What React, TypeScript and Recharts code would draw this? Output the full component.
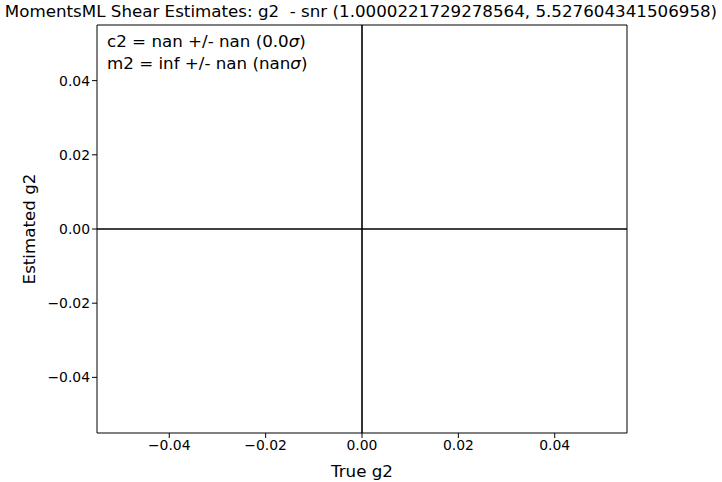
import React from 'react';
import { LineChart, Line, XAxis, YAxis, ReferenceLine, ReferenceArea, Label } from 'recharts';

const title = 'MomentsML Shear Estimates: g2  - snr (1.0000221729278564, 5.527604341506958)';
const xLabel = 'True g2';
const yLabel = 'Estimated g2';
const domain: [number, number] = [-0.055, 0.055];
const xTicks = [-0.04, -0.02, 0, 0.02, 0.04];
const yTicks = [-0.04, -0.02, 0, 0.02, 0.04];
// no finite estimates in the source figure
const points: { x: number; y: number }[] = [];
const statLines = [
  { name: 'c2', value: 'nan', err: 'nan', sig: '0.0' },
  { name: 'm2', value: 'inf', err: 'nan', sig: 'nan' },
];

const FONT = 'DejaVu Sans, sans-serif';

const fmt = (v: number) => {
  const s = v.toFixed(2);
  return s.startsWith('-') ? '\u2212' + s.slice(1) : s;
};

export default function App() {
  return (
    <div style={{ position: 'absolute', left: 0, top: 0, width: 722, height: 482, background: '#fff', fontFamily: FONT }}>
      <div style={{ position: 'absolute', left: 0, top: 1, width: 722, textAlign: 'center', fontSize: 16.7, color: '#000', whiteSpace: 'pre' }}>
        {title}
      </div>
      <LineChart width={722} height={482} data={points} margin={{ top: 25, right: 95, bottom: 0, left: 0 }}>
        <XAxis
          type="number"
          dataKey="x"
          domain={domain}
          ticks={xTicks}
          allowDataOverflow
          tickFormatter={fmt}
          tick={{ fill: '#000', fontSize: 13.9, fontFamily: FONT }}
          tickSize={5}
          axisLine={false}
          tickLine={{ stroke: '#000' }}
          height={49}
        >
          <Label value={xLabel} position="insideBottom" offset={5} style={{ fontSize: 16.7, fill: '#000', fontFamily: FONT }} />
        </XAxis>
        <YAxis
          type="number"
          dataKey="y"
          domain={domain}
          ticks={yTicks}
          allowDataOverflow
          tickFormatter={fmt}
          tick={{ fill: '#000', fontSize: 13.9, fontFamily: FONT }}
          tickSize={5}
          axisLine={false}
          tickLine={{ stroke: '#000' }}
          width={97}
        >
          <Label value={yLabel} angle={-90} position="insideLeft" offset={29} style={{ fontSize: 16.7, fill: '#000', fontFamily: FONT, textAnchor: 'middle' }} />
        </YAxis>
        <ReferenceArea x1={domain[0]} x2={domain[1]} y1={domain[0]} y2={domain[1]} fill="none" stroke="#000" strokeWidth={1} fillOpacity={0} />
        <ReferenceLine x={0} stroke="#000" strokeWidth={1.6} />
        <ReferenceLine y={0} stroke="#000" strokeWidth={1.6} />
        <Line dataKey="y" stroke="#1f77b4" dot={false} isAnimationActive={false} />
      </LineChart>
      {statLines.map((s, i) => (
        <div key={s.name} style={{ position: 'absolute', left: 107, top: 31 + i * 21.5, fontSize: 16.7, lineHeight: '20px', color: '#000', whiteSpace: 'pre' }}>
          {`${s.name} = ${s.value} +/- ${s.err} (${s.sig}`}
          <i>σ</i>
          {')'}
        </div>
      ))}
    </div>
  );
}
